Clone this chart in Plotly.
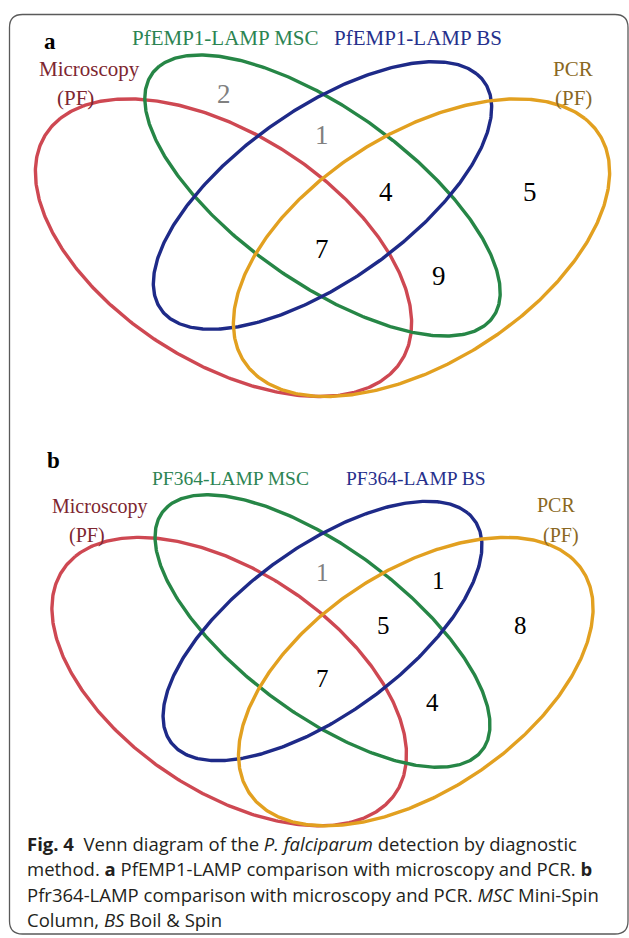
import numpy as np
import plotly.graph_objects as go

# ---------------- data ----------------
set_names = ["Microscopy (PF)", "LAMP MSC", "LAMP BS", "PCR (PF)"]
panel_a_titles = ["PfEMP1-LAMP MSC", "PfEMP1-LAMP BS"]
panel_b_titles = ["PF364-LAMP MSC", "PF364-LAMP BS"]
# region counts (panel a)
counts_a = ["2", "1", "4", "5", "7", "9"]
counts_a_gray = [True, True, False, False, False, False]
# region counts (panel b)
counts_b = ["1", "1", "5", "8", "7", "4"]
counts_b_gray = [True, False, False, False, False, False]

# ---------------- layout helpers ----------------
W, H = 629, 938
# ellipse geometry in unit Venn space: (cx, cy, a, b, angle)
ell = [
    (0.35, 0.47, 0.35, 0.20, 135),  # microscopy (red)
    (0.50, 0.57, 0.35, 0.15, 135),  # MSC (green)
    (0.50, 0.57, 0.33, 0.15, 45),   # BS (blue)
    (0.65, 0.47, 0.35, 0.20, 45),   # PCR (gold)
]
line_cols = ["rgb(206,72,82)", "rgb(38,134,70)", "rgb(30,42,136)", "rgb(226,160,32)"]
text_cols = ["rgb(125,38,48)", "rgb(44,132,82)", "rgb(38,48,140)", "rgb(138,104,34)"]

# pixel mapping for each panel: (center_x, center_y, scale_x, scale_y)
panels = {
    "a": (322.5, 195.5, 660, 522),
    "b": (322.5, 631.0, 622, 506),
}

fig = go.Figure()
t = np.linspace(0, 2 * np.pi, 500)
for key, (pcx, pcy, sx, sy) in panels.items():
    for (cx, cy, a, b, ang), col in zip(ell, line_cols):
        th = np.deg2rad(ang)
        u = cx + a * np.cos(t) * np.cos(th) - b * np.sin(t) * np.sin(th)
        v = cy + a * np.cos(t) * np.sin(th) + b * np.sin(t) * np.cos(th)
        xs = pcx + sx * (u - 0.5)
        ys = pcy - sy * (v - 0.57)
        fig.add_trace(go.Scatter(x=xs, y=ys, mode="lines",
                                 line=dict(color=col, width=3.4),
                                 hoverinfo="skip", showlegend=False))

serif = "Liberation Serif"
ann = []


def txt(x, y, s, size, color, font=serif, xanchor="center"):
    ann.append(dict(x=x, y=y, xref="x", yref="y", text=s, showarrow=False,
                    font=dict(family=font, size=size, color=color),
                    xanchor=xanchor, yanchor="middle"))


# panel a labels
txt(50, 41, "<b>a</b>", 23, "black")
txt(225, 38, panel_a_titles[0], 21, text_cols[1])
txt(418, 38, panel_a_titles[1], 21, text_cols[2])
txt(89, 69, "Microscopy", 21, text_cols[0])
txt(75, 98, "(PF)", 21, text_cols[0])
txt(573, 69, "PCR", 21, text_cols[3])
txt(573, 98, "(PF)", 21, text_cols[3])
pos_a = [(224, 94), (322, 135), (386, 192), (530, 192), (322, 249), (439, 276)]
for (x, y), c, g in zip(pos_a, counts_a, counts_a_gray):
    txt(x, y, c, 27, "rgb(128,128,128)" if g else "black")

# panel b labels
txt(53, 460, "<b>b</b>", 23, "black")
txt(230, 478, panel_b_titles[0], 19.5, text_cols[1])
txt(416, 478, panel_b_titles[1], 19.5, text_cols[2])
txt(100, 506, "Microscopy", 20, text_cols[0])
txt(87, 535, "(PF)", 20, text_cols[0])
txt(556, 505, "PCR", 20, text_cols[3])
txt(561, 535, "(PF)", 20, text_cols[3])
pos_b = [(322, 572), (438, 580), (383, 625), (520, 625), (322, 678), (432, 702)]
for (x, y), c, g in zip(pos_b, counts_b, counts_b_gray):
    txt(x, y, c, 25, "rgb(128,128,128)" if g else "black")

# caption
cap = [
    "<b>Fig. 4</b>  Venn diagram of the <i>P. falciparum</i> detection by diagnostic",
    "method. <b>a</b> PfEMP1-LAMP comparison with microscopy and PCR. <b>b</b>",
    "Pfr364-LAMP comparison with microscopy and PCR. <i>MSC</i> Mini-Spin",
    "Column, <i>BS</i> Boil &amp; Spin",
]
for i, line in enumerate(cap):
    txt(25, 843 + 25.5 * i, line, 18.5, "rgb(35,31,32)", font="Open Sans", xanchor="left")

# border (rounded rectangle)
x0, y0, x1, y1, r = 9.5, 14.5, 628, 934, 13
path = (f"M {x0+r},{y0} L {x1-r},{y0} Q {x1},{y0} {x1},{y0+r} L {x1},{y1-r} "
        f"Q {x1},{y1} {x1-r},{y1} L {x0+r},{y1} Q {x0},{y1} {x0},{y1-r} "
        f"L {x0},{y0+r} Q {x0},{y0} {x0+r},{y0} Z")

fig.update_layout(
    width=W, height=H,
    margin=dict(l=0, r=0, t=0, b=0),
    paper_bgcolor="white", plot_bgcolor="white",
    xaxis=dict(range=[0, W], visible=False, fixedrange=True),
    yaxis=dict(range=[H, 0], visible=False, fixedrange=True),
    annotations=ann,
    shapes=[dict(type="path", path=path, xref="x", yref="y",
                 line=dict(color="rgb(90,90,90)", width=1.3))],
)
fig.write_html("out.html", config={"displayModeBar": False})

# remove the browser's default page margin so the figure sits at (0, 0)
with open("out.html", "r", encoding="utf-8") as f:
    html = f.read()
html = html.replace("<head>", "<head><style>html,body{margin:0;padding:0;overflow:hidden;}</style>", 1)
with open("out.html", "w", encoding="utf-8") as f:
    f.write(html)
